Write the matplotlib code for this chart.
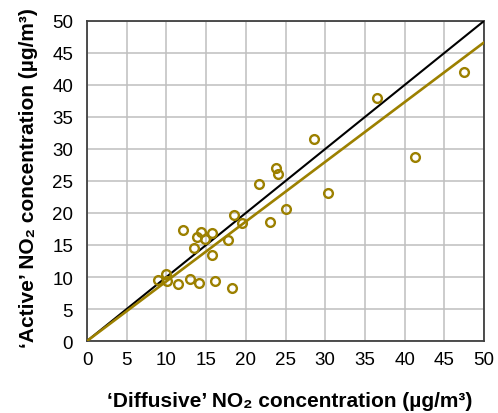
import numpy as np
import matplotlib
matplotlib.use('Agg')
import matplotlib.pyplot as plt

plt.rcParams['font.family'] = ['Liberation Sans', 'DejaVu Sans']

# diffusive (x) vs active (y) NO2, ug/m3
diffusive = [47.5, 36.5, 28.6, 41.3, 23.8, 24.0, 21.6, 30.4, 25.0, 18.5,
             19.5, 23.0, 12.05, 14.4, 15.8, 13.8, 14.9, 17.8, 13.5, 15.8,
             9.9, 9.0, 10.1, 13.0, 11.4, 14.1, 16.1, 18.3]
active = [42.1, 37.9, 31.5, 28.8, 27.1, 26.1, 24.6, 23.2, 20.7, 19.7,
          18.4, 18.6, 17.4, 17.0, 16.8, 16.3, 15.9, 15.8, 14.5, 13.5,
          10.5, 9.5, 9.3, 9.7, 8.9, 9.0, 9.3, 8.3]

ticks = list(range(0, 51, 5))
fit_slope = 0.933   # trend line through origin
gold = '#9C8000'

x = np.array(diffusive)
y = np.array(active)
line_x = np.array([0, 50])

fig = plt.figure(figsize=(4.98, 4.14), dpi=100)
ax = fig.add_axes([0.1747, 0.1739, 0.7972, 0.773])

ax.plot(line_x, line_x, color='black', lw=1.5, zorder=3)
ax.plot(line_x, fit_slope * line_x, color=gold, lw=1.9, zorder=3)
ax.plot(x, y, 'o', mfc='none', mec=gold, ms=6.3, mew=1.7, zorder=4, clip_on=False)

ax.set_xlim(0, 50)
ax.set_ylim(0, 50)
ax.set_xticks(ticks)
ax.set_yticks(ticks)
ax.grid(True, color='#bfbfbf', lw=1.1)
ax.set_axisbelow(True)
ax.tick_params(length=0, labelsize=13.5)
ax.tick_params(axis='x', pad=7)
ax.tick_params(axis='y', pad=10)
for s in ax.spines.values():
    s.set_color('#404040')
    s.set_linewidth(1.3)

fig.text(0.582, 0.018,
         '\u2018Diffusive\u2019 NO\u2082 concentration (\u00b5g/m\u00b3)',
         fontsize=15, fontweight='bold', ha='center', va='baseline')
fig.text(0.058, 0.571,
         '\u2018Active\u2019 NO\u2082 concentration (\u00b5g/m\u00b3)',
         fontsize=15, fontweight='bold', ha='center', va='center', rotation=90)

fig.savefig('out.png', dpi=100)
